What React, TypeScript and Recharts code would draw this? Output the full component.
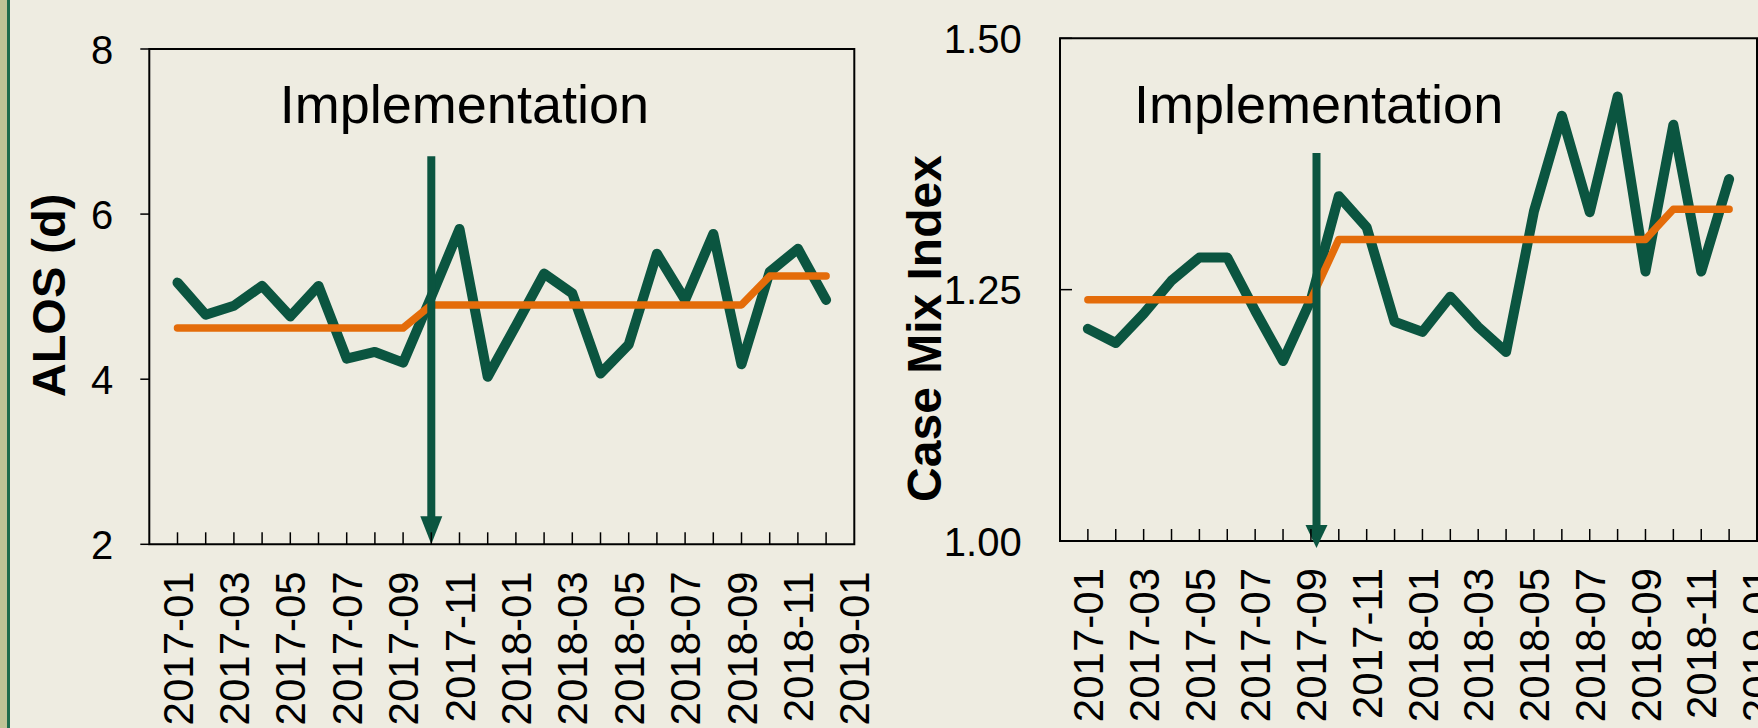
import React from 'react';
import { LineChart, Line, XAxis, YAxis, ReferenceLine, ReferenceArea } from 'recharts';

// months on the x axis (2019-01 has no data, only a label at the right edge)
const MONTHS = [
  '2017-01', '2017-02', '2017-03', '2017-04', '2017-05', '2017-06', '2017-07', '2017-08',
  '2017-09', '2017-10', '2017-11', '2017-12', '2018-01', '2018-02', '2018-03', '2018-04',
  '2018-05', '2018-06', '2018-07', '2018-08', '2018-09', '2018-10', '2018-11', '2018-12',
  '2019-01',
];
const MONTH_IDX = MONTHS.map((_, i) => i);

const ALOS = [
  5.17, 4.78, 4.89, 5.13, 4.76, 5.13, 4.25, 4.33, 4.2, 5.0, 5.82, 4.03,
  4.65, 5.28, 5.04, 4.07, 4.42, 5.52, 4.96, 5.76, 4.18, 5.3, 5.58, 4.96,
];
const ALOS_MEAN = [
  4.62, 4.62, 4.62, 4.62, 4.62, 4.62, 4.62, 4.62, 4.62, 4.9, 4.9, 4.9,
  4.9, 4.9, 4.9, 4.9, 4.9, 4.9, 4.9, 4.9, 4.9, 5.25, 5.25, 5.25,
];
const ALOS_TICKS = [2, 4, 6, 8];

const CMI = [
  1.211, 1.197, 1.226, 1.259, 1.282, 1.282, 1.229, 1.179, 1.24, 1.343, 1.312, 1.218,
  1.208, 1.243, 1.213, 1.188, 1.328, 1.423, 1.327, 1.442, 1.268, 1.414, 1.268, 1.36,
];
const CMI_MEAN = [
  1.24, 1.24, 1.24, 1.24, 1.24, 1.24, 1.24, 1.24, 1.24, 1.3, 1.3, 1.3,
  1.3, 1.3, 1.3, 1.3, 1.3, 1.3, 1.3, 1.3, 1.3, 1.33, 1.33, 1.33,
];
const CMI_TICKS = [1, 1.25, 1.5];

const GREEN = '#0b5540';
const ORANGE = '#e46c0a';
const BG = '#eeece1';
const FONT = '"Liberation Sans", Arial, sans-serif';

const XTick = (props: any) => {
  const { x, y, payload } = props;
  const i = payload.value;
  return (
    <g>
      {i < 24 && <line x1={x} y1={y} x2={x} y2={y - 12} stroke="#000" strokeWidth={1.5} />}
      {i % 2 === 0 && (
        <text
          transform={`translate(${x},${y + 27}) rotate(-90)`}
          textAnchor="end"
          dy="0.36em"
          fontSize={42}
          fontFamily={FONT}
          fill="#000"
        >
          {MONTHS[i]}
        </text>
      )}
    </g>
  );
};

function Panel(p: any) {
  const data = p.values.map((v: number, i: number) => ({ i, value: v, mean: p.mean[i] }));

  const yTick = (tp: any) => (
    <g>
      <line x1={tp.x} y1={tp.y} x2={tp.x + p.tickLen} y2={tp.y} stroke="#000" strokeWidth={1.5} />
      <text x={tp.x - p.labelGap} y={tp.y} dy="0.37em" textAnchor="end" fontSize={40} fontFamily={FONT} fill="#000">
        {p.fmt(tp.payload.value)}
      </text>
    </g>
  );

  const title = () => (
    <text
      transform={`translate(${p.titleX},${p.titleY}) rotate(-90)`}
      textAnchor="middle"
      fontSize={p.titleSize}
      fontWeight="bold"
      fontFamily={FONT}
      fill="#000"
    >
      {p.title}
    </text>
  );

  // vertical implementation marker with arrow head and caption
  const marker = (sp: any) => {
    const x = sp.x1;
    const tip = sp.y2 + p.tipOffset;
    return (
      <g>
        <line x1={x} y1={sp.y1} x2={x} y2={tip - p.headLen + 2} stroke={GREEN} strokeWidth={8} />
        <polygon points={`${x - 11},${tip - p.headLen} ${x + 11},${tip - p.headLen} ${x},${tip}`} fill={GREEN} />
        <text x={x + p.textDx} y={123} fontSize={54} fontFamily={FONT} fill="#000">
          Implementation
        </text>
      </g>
    );
  };

  return (
    <div style={{ position: 'absolute', left: p.left, top: 0 }}>
      <LineChart width={p.width} height={728} data={data} margin={p.margin}>
        <XAxis
          dataKey="i"
          type="number"
          domain={[-1, 24]}
          ticks={MONTH_IDX}
          interval={0}
          tick={(tp: any) => <XTick {...tp} />}
          tickLine={false}
          axisLine={false}
          tickSize={0}
          tickMargin={0}
          height={30}
        />
        <YAxis
          type="number"
          domain={p.domain}
          ticks={p.ticks}
          interval={0}
          tick={yTick}
          tickLine={false}
          axisLine={false}
          tickSize={0}
          tickMargin={0}
          width={60}
          label={title}
        />
        <ReferenceArea
          x1={-1}
          x2={24}
          y1={p.domain[0]}
          y2={p.domain[1]}
          fill="none"
          fillOpacity={0}
          stroke="#000"
          strokeWidth={2}
        />
        <Line
          dataKey="value"
          stroke={GREEN}
          strokeWidth={10}
          strokeLinejoin="round"
          strokeLinecap="round"
          dot={false}
          activeDot={false}
          isAnimationActive={false}
        />
        <Line
          dataKey="mean"
          stroke={ORANGE}
          strokeWidth={7.5}
          strokeLinejoin="round"
          strokeLinecap="round"
          dot={false}
          activeDot={false}
          isAnimationActive={false}
        />
        <ReferenceLine
          segment={[{ x: p.implX, y: p.implTop }, { x: p.implX, y: p.domain[0] }]}
          shape={marker}
        />
      </LineChart>
    </div>
  );
}

export default function App() {
  return (
    <div
      style={{
        position: 'absolute',
        left: 0,
        top: 0,
        width: 1758,
        height: 728,
        background: BG,
        overflow: 'hidden',
      }}
    >
      <div style={{ position: 'absolute', left: 0, top: 0, width: 7, height: 728, background: '#bfc396' }} />
      <div style={{ position: 'absolute', left: 7, top: 0, width: 3, height: 728, background: '#1f6b4c' }} />
      <Panel
        left={0}
        width={880}
        margin={{ top: 49, left: 89.3, right: 25.7, bottom: 153.7 }}
        values={ALOS}
        mean={ALOS_MEAN}
        domain={[2, 8]}
        ticks={ALOS_TICKS}
        fmt={(v: number) => String(v)}
        tickLen={-9}
        labelGap={36}
        title="ALOS (d)"
        titleX={65}
        titleY={295.5}
        titleSize={47}
        implX={9}
        implTop={6.7}
        headLen={28}
        tipOffset={0}
        textDx={-151.5}
      />
      <Panel
        left={880}
        width={878}
        margin={{ top: 38.3, left: 120, right: 1, bottom: 157 }}
        values={CMI}
        mean={CMI_MEAN}
        domain={[1, 1.5]}
        ticks={CMI_TICKS}
        fmt={(v: number) => v.toFixed(2)}
        tickLen={12}
        labelGap={38.3}
        title="Case Mix Index"
        titleX={61}
        titleY={328.5}
        titleSize={48}
        implX={8.2}
        implTop={1.386}
        headLen={23}
        tipOffset={7}
        textDx={-182.5}
      />
    </div>
  );
}
